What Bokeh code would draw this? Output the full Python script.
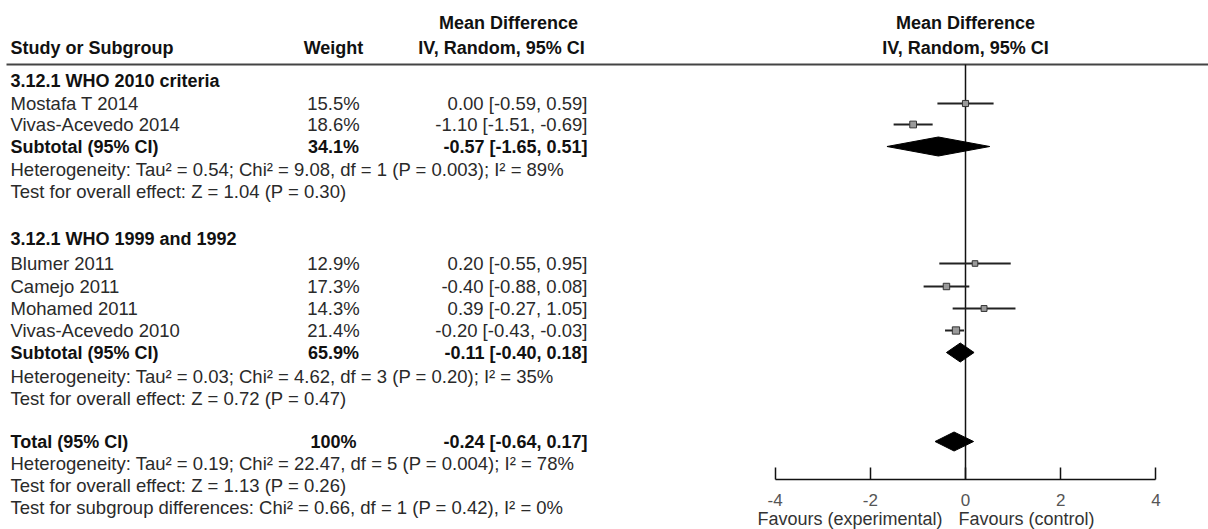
from bokeh.plotting import figure
from bokeh.models import Range1d, LinearAxis, FixedTicker, ColumnDataSource
from bokeh.core.properties import value
from bokeh.embed import file_html
from bokeh.resources import INLINE

# ---------------- data ----------------
subgroups = ["3.12.1 WHO 2010 criteria", "3.12.1 WHO 1999 and 1992"]
studies = ["Mostafa T 2014", "Vivas-Acevedo 2014", "Blumer 2011",
           "Camejo 2011", "Mohamed 2011", "Vivas-Acevedo 2010"]
weights = [15.5, 18.6, 12.9, 17.3, 14.3, 21.4]
md = [0.00, -1.10, 0.20, -0.40, 0.39, -0.20]
ci_low = [-0.59, -1.51, -0.55, -0.88, -0.27, -0.43]
ci_high = [0.59, -0.69, 0.95, 0.08, 1.05, -0.03]

pooled_labels = ["Subtotal (95% CI)", "Subtotal (95% CI)", "Total (95% CI)"]
pooled_weights = [34.1, 65.9, 100]
pooled_md = [-0.57, -0.11, -0.24]
pooled_low = [-1.65, -0.40, -0.64]
pooled_high = [0.51, 0.18, 0.17]

stats_lines = [
    "Heterogeneity: Tau² = 0.54; Chi² = 9.08, df = 1 (P = 0.003); I² = 89%",
    "Test for overall effect: Z = 1.04 (P = 0.30)",
    "Heterogeneity: Tau² = 0.03; Chi² = 4.62, df = 3 (P = 0.20); I² = 35%",
    "Test for overall effect: Z = 0.72 (P = 0.47)",
    "Heterogeneity: Tau² = 0.19; Chi² = 22.47, df = 5 (P = 0.004); I² = 78%",
    "Test for overall effect: Z = 1.13 (P = 0.26)",
    "Test for subgroup differences: Chi² = 0.66, df = 1 (P = 0.42), I² = 0%",
]
axis_ticks = [-4, -2, 0, 2, 4]
axis_tick_labels = ["-4", "-2", "0", "2", "4"]
favours = ["Favours (experimental)", "Favours (control)"]
header_left = ["Study or Subgroup", "Weight"]
header_md = ["Mean Difference", "IV, Random, 95% CI"]

# ---------------- layout ----------------
W, H = 1208, 529
ZERO_PX, PX_PER_UNIT = 965.0, 47.6


def to_x(px):
    return (px - ZERO_PX) / PX_PER_UNIT


subgroup_y = [80, 238]
study_y = [103, 124, 263, 286, 308, 330]
pooled_y = [146, 352, 441]
stats_y = [169, 191, 376, 398, 463, 485, 507]
RULE_Y, AXIS_Y = 64, 479
COL_STUDY, COL_WEIGHT, COL_MD = 10, 333, 587

FONT = value("Liberation Sans")
FS = value("18.5px")
TXT = "#2a2a2a"

p = figure(width=W, height=H, output_backend="svg", toolbar_location=None,
           x_range=Range1d(to_x(0), to_x(W)), y_range=Range1d(H, 0),
           x_axis_location=None, y_axis_location=None, min_border=0)
p.grid.visible = False
p.outline_line_color = None
p.background_fill_color = "white"
p.border_fill_color = "white"


def txt(xs, ys, texts, align="left", bold=False, color=TXT, size=FS):
    src = ColumnDataSource(dict(x=xs, y=ys, t=texts))
    p.text(x="x", y="y", text="t", source=src, text_font=FONT, text_font_size=size,
           text_font_style="bold" if bold else "normal", text_color=color,
           text_align=align, text_baseline="middle")


HS = value("18px")
# headers
txt([to_x(COL_STUDY)], [47], [header_left[0]], bold=True, color="#111", size=HS)
txt([to_x(COL_WEIGHT)], [47], [header_left[1]], align="center", bold=True, color="#111", size=HS)
txt([to_x(508), to_x(501)], [22, 47], header_md, align="center", bold=True, color="#111", size=HS)
txt([0, 0], [22, 47], header_md, align="center", bold=True, color="#111", size=HS)
p.segment(x0=[to_x(6)], y0=[RULE_Y], x1=[to_x(W)], y1=[RULE_Y], line_color="#444", line_width=2.2)

# subgroup titles
txt([to_x(COL_STUDY)] * 2, subgroup_y, subgroups, bold=True, color="#111", size=HS)

# studies
txt([to_x(COL_STUDY)] * len(studies), study_y, studies)
txt([to_x(COL_WEIGHT)] * len(studies), study_y, [f"{w:g}%" for w in weights], align="center")
txt([to_x(COL_MD)] * len(studies), study_y,
    [f"{m:.2f} [{l:.2f}, {h:.2f}]" for m, l, h in zip(md, ci_low, ci_high)], align="right")

# pooled
txt([to_x(COL_STUDY)] * 3, pooled_y, pooled_labels, bold=True, color="#111", size=HS)
txt([to_x(COL_WEIGHT)] * 3, pooled_y, [f"{w:g}%" for w in pooled_weights], align="center",
    bold=True, color="#111", size=HS)
txt([to_x(COL_MD)] * 3, pooled_y,
    [f"{m:.2f} [{l:.2f}, {h:.2f}]" for m, l, h in zip(pooled_md, pooled_low, pooled_high)],
    align="right", bold=True, color="#111", size=HS)

# stats
txt([to_x(COL_STUDY)] * len(stats_lines), stats_y, stats_lines)

# zero line
p.segment(x0=[0], y0=[RULE_Y], x1=[0], y1=[AXIS_Y], line_color="#111", line_width=1.5)

# study CIs and squares
p.segment(x0=ci_low, y0=study_y, x1=ci_high, y1=study_y, line_color="#222", line_width=2)
p.scatter(x=md, y=study_y, marker="square", size=[3 + 0.2 * w for w in weights],
          fill_color="#9a9a9a", line_color="#333", line_width=1)

# pooled diamonds
HALF = 9.5
p.patches(xs=[[l, m, h, m] for l, m, h in zip(pooled_low, pooled_md, pooled_high)],
          ys=[[y, y - HALF, y, y + HALF] for y in pooled_y],
          fill_color="black", line_color="black", line_width=1)

# axis
ax = LinearAxis(fixed_location=AXIS_Y, bounds=(-4, 4), ticker=FixedTicker(ticks=axis_ticks),
                major_label_overrides={t: s for t, s in zip(axis_ticks, axis_tick_labels)},
                major_tick_in=12, major_tick_out=0, minor_tick_in=0, minor_tick_out=0,
                axis_line_width=1.5, axis_line_color="#111", major_tick_line_width=1.5,
                major_tick_line_color="#111",
                major_label_text_font="Liberation Sans", major_label_text_font_size="17px",
                major_label_text_color="#555", major_label_standoff=14)
p.add_layout(ax, "below")

# favours labels
src_f = ColumnDataSource(dict(x=[to_x(942), to_x(958)], y=[518, 518], t=favours, a=["right", "left"]))
p.text(x="x", y="y", text="t", source=src_f, text_font=FONT, text_font_size=value("18px"),
       text_color="#333", text_align="a", text_baseline="middle")

open("out.html", "w").write(file_html(p, INLINE))
